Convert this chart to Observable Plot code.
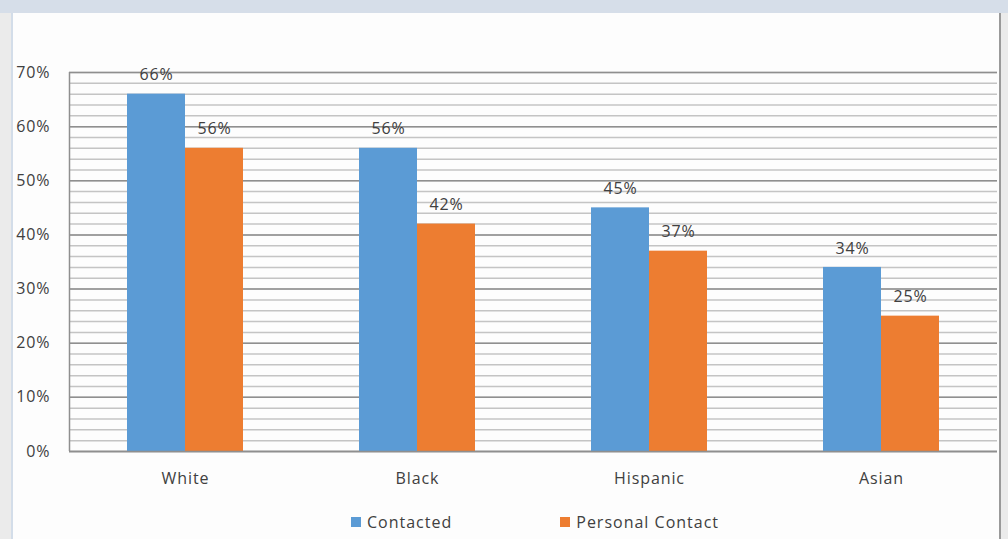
<!DOCTYPE html>
<html>
<head>
<meta charset="utf-8">
<script src="https://cdn.jsdelivr.net/npm/d3@7"></script>
<script src="https://cdn.jsdelivr.net/npm/@observablehq/plot@0.6"></script>
<style>
  html, body { margin: 0; padding: 0; }
  body { width: 1008px; height: 539px; background: #ebebeb; position: relative; overflow: hidden;
         font-family: "Open Sans", sans-serif; }
  #band { position: absolute; left: 0; top: 0; width: 1008px; height: 13px; background: #d6dee9; }
  #panel { position: absolute; left: 11px; top: 13px; width: 986px; height: 526px; background: #fdfdfd;
           border-left: 2px solid #d3dde9; border-right: 2px solid #9a9a9a; }
  #chart { position: absolute; left: 0; top: 13px; }
  #legend { position: absolute; left: 351px; top: 511px; display: flex;
            font-size: 16px; letter-spacing: 1px; color: #404040; }
  .item { display: flex; align-items: center; }
  .sw { width: 10px; height: 10px; margin-right: 6px; }
</style>
</head>
<body>
<div id="band"></div>
<div id="panel"></div>
<div id="chart"></div>
<div id="legend"></div>
<script>
// Share of each group that was contacted, overall and in person
const categories = ["White", "Black", "Hispanic", "Asian"];
const seriesNames = ["Contacted", "Personal Contact"];
const contacted = [66, 56, 45, 34];
const personalContact = [56, 42, 37, 25];
const yTicks = [0, 10, 20, 30, 40, 50, 60, 70];
const colors = ["#5b9bd5", "#ed7d31"];

// Each category occupies one unit on the x scale; the pair of bars fills its middle half
const rows = [];
categories.forEach((c, i) => {
  rows.push({category: c, series: seriesNames[0], value: contacted[i], x1: i + 0.25, x2: i + 0.5});
  rows.push({category: c, series: seriesNames[1], value: personalContact[i], x1: i + 0.5, x2: i + 0.75});
});
const minor = d3.range(0, 71, 2);

const chart = Plot.plot({
  width: 1008,
  height: 480,
  marginLeft: 69,
  marginRight: 11,
  marginTop: 59,
  marginBottom: 42,
  style: {fontFamily: "Open Sans, sans-serif", fontSize: "16px", color: "#404040", background: "transparent", letterSpacing: "0.9px"},
  x: {domain: [0, categories.length], axis: null},
  y: {domain: [0, 70], axis: null},
  color: {domain: seriesNames, range: colors},
  marks: [
    Plot.ruleY(minor, {stroke: "#c4c4c4", strokeWidth: 1.5}),
    Plot.ruleY(yTicks, {stroke: "#8f8f8f", strokeWidth: 1.5}),
    Plot.ruleX([0], {stroke: "#8f8f8f", strokeWidth: 1.5}),
    Plot.rectY(rows, {x1: "x1", x2: "x2", y1: 0, y2: "value", fill: "series"}),
    Plot.ruleY([0], {stroke: "#8f8f8f", strokeWidth: 1.5}),
    Plot.text(rows, {x: d => (d.x1 + d.x2) / 2, y: "value", text: d => d.value + "%",
      dy: -19, fill: "#404040"}),
    Plot.axisY(yTicks, {tickFormat: d => d + "%", tickSize: 0, tickPadding: 19, fill: "#404040",
      fontSize: 16, label: null}),
    Plot.axisX(categories.map((c, i) => i + 0.5), {tickFormat: (d, i) => categories[i], tickSize: 0,
      tickPadding: 21, fill: "#404040", fontSize: 16, anchor: "bottom", label: null})
  ]
});
document.getElementById("chart").appendChild(chart);

const legend = document.getElementById("legend");
seriesNames.forEach((name, i) => {
  const item = document.createElement("div");
  item.className = "item";
  item.style.marginRight = i === 0 ? "108px" : "0";
  const sw = document.createElement("span");
  sw.className = "sw";
  sw.style.background = colors[i];
  const label = document.createElement("span");
  label.textContent = name;
  item.appendChild(sw);
  item.appendChild(label);
  legend.appendChild(item);
});
</script>
</body>
</html>
